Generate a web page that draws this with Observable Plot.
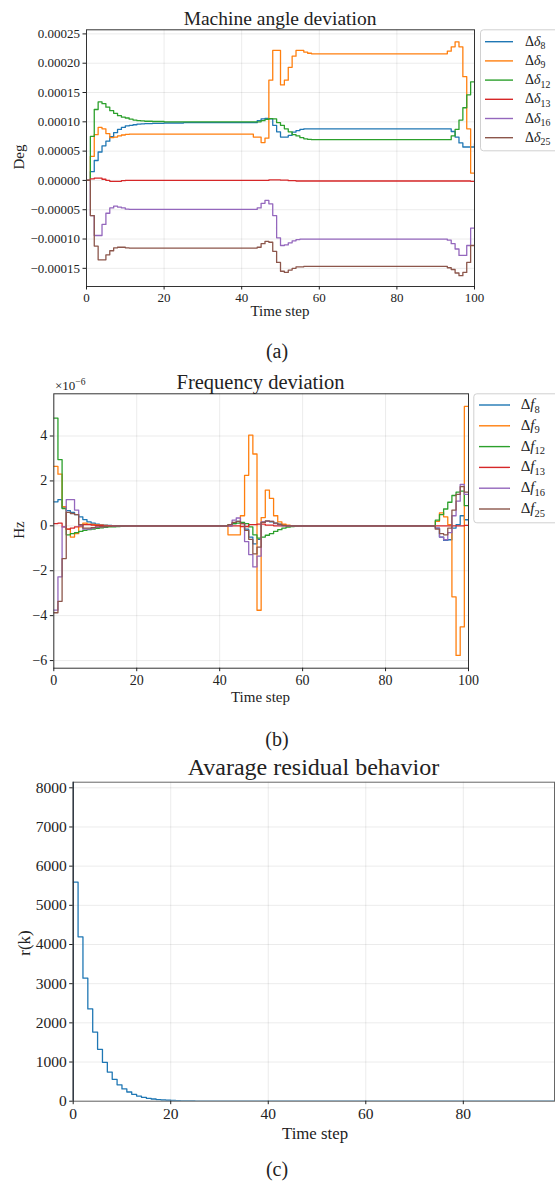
<!DOCTYPE html>
<html><head><meta charset="utf-8">
<script src="https://cdn.jsdelivr.net/npm/d3@7"></script>
<script src="https://cdn.jsdelivr.net/npm/@observablehq/plot@0.6"></script>
<style>
body{margin:0;width:555px;height:1192px;overflow:hidden;background:#fff;font-family:"Liberation Serif",serif;color:#222;}
#root{position:relative;width:555px;height:1192px;}
.pl{position:absolute;left:0;}
#overlay{position:absolute;left:0;top:0;pointer-events:none;}
</style></head><body><div id="root"></div>
<script>
// ---------- tick labels ----------
const stepTicks = [0, 20, 40, 60, 80, 100];
const resStepTicks = [0, 20, 40, 60, 80];
const angleTicks = [-0.00015, -0.0001, -0.00005, 0, 0.00005, 0.0001, 0.00015, 0.0002, 0.00025];
const freqTicks = [-6, -4, -2, 0, 2, 4];
const resTicks = [0, 1000, 2000, 3000, 4000, 5000, 6000, 7000, 8000];

// ---------- series ----------
const seriesIds = ["8", "9", "12", "13", "16", "25"];
const seriesColors = ["#1f77b4", "#ff7f0e", "#2ca02c", "#d62728", "#9467bd", "#8c564b"];

// Machine angle deviation, [time step, value in 1e-5 deg] at each step change
const angle8 = [[0,0],[1,1.5],[2,3.4],[3,4.85],[4,5.9],[5,6.7],[6,7.45],[7,8.15],[8,8.7],[9,9.05],[10,9.3],[11,9.4],[12,9.5],[13,9.6],[14,9.65],[15,9.7],[17,9.75],[20,9.8],[25,9.85],[44,10.2],[45,10.5],[46,10.6],[47,10.5],[48,9.4],[49,8.3],[50,7.4],[52,7.7],[53,8.25],[54,8.5],[55,8.7],[56,8.8],[94,8.35],[95,7.4],[96,6.4],[97,5.7],[100,6.25]];
const angle9 = [[0,0],[1,4.1],[2,7.8],[3,9.05],[4,8.8],[5,8.0],[6,7.3],[7,7.4],[8,7.6],[9,7.75],[10,7.85],[11,7.9],[43,7.4],[45,6.45],[46,7.2],[47,17.1],[48,22.2],[50,16.3],[51,17.1],[52,19.3],[53,21.2],[54,22.2],[56,21.9],[57,21.7],[58,21.6],[93,22.05],[94,22.8],[95,23.65],[96,22.8],[97,17.7],[98,8.8],[99,1.25],[100,1.25]];
const angle12 = [[0,0],[1,7.5],[2,12.1],[3,13.4],[4,13.1],[5,12.5],[6,11.9],[7,11.45],[8,11.05],[9,10.8],[10,10.65],[11,10.45],[12,10.3],[13,10.2],[14,10.15],[15,10.1],[17,10.05],[20,10.0],[45,10.2],[46,10.4],[47,10.55],[48,10.5],[49,9.85],[50,9.4],[51,8.8],[52,8.3],[53,7.8],[54,7.6],[55,7.3],[56,7.1],[57,7.0],[58,6.95],[94,7.6],[95,8.7],[96,10.3],[97,12.4],[98,14.6],[99,16.8],[100,16.8]];
const angle13 = [[0,0],[1,0.25],[2,0.4],[4,0.2],[5,0],[6,-0.15],[9,-0.05],[10,0],[47,0.1],[50,0.05],[52,-0.05],[54,-0.1],[99,-0.15],[100,-0.15]];
const angle16 = [[0,0],[1,-6.0],[2,-9.4],[4,-7.5],[5,-5.6],[6,-4.7],[7,-4.4],[8,-4.55],[9,-4.7],[10,-4.9],[11,-4.95],[44,-4.7],[45,-3.9],[46,-3.4],[47,-4.0],[48,-6.0],[49,-9.8],[50,-11.1],[51,-11.0],[52,-10.65],[53,-10.3],[54,-10.1],[55,-10.0],[93,-10.2],[94,-10.8],[95,-11.7],[96,-12.8],[98,-11.1],[99,-8.15],[100,-8.15]];
const angle25 = [[0,0],[1,-6.0],[2,-11.2],[3,-13.55],[5,-12.7],[6,-12.0],[7,-11.5],[8,-11.4],[10,-11.5],[11,-11.55],[44,-11.4],[45,-10.8],[46,-10.4],[47,-10.55],[48,-12.1],[49,-14.0],[50,-15.5],[51,-15.7],[52,-15.3],[53,-15.0],[54,-14.75],[56,-14.65],[93,-14.9],[94,-15.2],[95,-15.8],[96,-16.25],[97,-15.7],[98,-14.0],[99,-11.1],[100,-11.1]];

// Frequency deviation, [time step, value in 1e-6 Hz] at each step change
const freq8 = [[0,1.07],[1,1.17],[2,0.8],[3,0.68],[4,0.6],[5,0.5],[6,0.4],[7,0.28],[8,0.18],[9,0.12],[10,0.07],[11,0.04],[12,0.03],[13,0.02],[14,0.01],[15,0],[43,0.1],[44,0.2],[45,0.12],[46,-0.15],[47,-0.5],[48,-0.8],[49,-0.6],[50,0.15],[51,0.2],[52,0.18],[53,0.12],[54,0.07],[55,0.03],[56,0],[92,-0.1],[93,-0.5],[94,-0.65],[95,-0.62],[96,-0.1],[97,0.05],[98,0.45],[99,0.27],[100,0.27]];
const freq9 = [[0,2.65],[1,2.3],[2,0.85],[3,-0.15],[4,-0.5],[5,-0.35],[6,-0.05],[7,0.12],[8,0.08],[9,0.06],[10,0.04],[11,0.03],[12,0.02],[13,0.01],[14,0],[42,-0.4],[45,0.45],[46,2.25],[47,4.04],[48,3.2],[49,-3.76],[50,0.37],[51,1.59],[52,1.22],[53,0.45],[54,0.18],[55,0.07],[56,0.03],[57,0],[92,0.2],[93,0.58],[94,0.4],[95,0.05],[96,-3.16],[97,-5.77],[98,-4.5],[99,5.32],[100,5.32]];
const freq12 = [[0,4.8],[1,2.95],[2,0.77],[3,-0.4],[4,-0.35],[5,-0.3],[6,-0.25],[7,-0.2],[8,-0.17],[9,-0.14],[10,-0.11],[11,-0.09],[12,-0.07],[13,-0.05],[14,-0.04],[15,-0.03],[16,-0.02],[17,-0.01],[18,0],[42,0.05],[43,0.1],[44,0.12],[45,0.15],[46,0.1],[47,-0.05],[48,-0.4],[49,-0.55],[50,-0.5],[51,-0.42],[52,-0.35],[53,-0.25],[54,-0.17],[55,-0.1],[56,-0.06],[57,-0.03],[58,-0.01],[59,0],[92,0.25],[93,0.5],[94,0.75],[95,1.05],[96,1.35],[97,1.5],[98,1.55],[99,0.9],[100,0.9]];
const freq13 = [[0,0.1],[1,0.12],[2,-0.05],[3,-0.15],[4,-0.1],[5,-0.05],[6,0],[7,0.05],[9,0.03],[10,0.02],[12,0],[45,-0.03],[47,0.05],[49,0.08],[51,0.03],[53,0],[99,0.02],[100,0.02]];
const freq16 = [[0,-3.75],[1,-2.27],[2,-0.05],[3,1.17],[5,0.7],[6,0],[7,-0.15],[9,-0.1],[10,-0.07],[11,-0.05],[12,-0.03],[13,-0.02],[14,-0.01],[15,0],[43,0.25],[44,0.35],[45,0.1],[46,-0.7],[47,-1.28],[48,-1.83],[49,-1.35],[50,0.18],[51,0.2],[53,0.1],[54,0.04],[55,0],[92,-0.1],[93,-0.5],[94,-0.62],[95,-0.3],[96,0.45],[97,1.1],[98,1.84],[99,1.4],[100,1.4]];
const freq25 = [[0,-3.87],[1,-3.36],[2,-1.46],[3,0.6],[4,0.55],[5,0.5],[6,0.05],[7,-0.1],[9,-0.08],[10,-0.05],[11,-0.04],[12,-0.03],[13,-0.02],[14,-0.01],[15,0],[42,0.05],[43,0.15],[44,0.2],[45,0.1],[46,-0.2],[47,-0.6],[48,-1.25],[49,-0.95],[50,0.15],[51,0.22],[52,0.2],[53,0.12],[54,0.06],[55,0.02],[56,0],[92,-0.15],[93,-0.35],[94,-0.4],[95,-0.1],[96,0.7],[97,1.4],[98,1.75],[99,1.5],[100,1.5]];

// Average residual r(k), [time step, value] at each step change
const residual = [[0,5590],[1,4195],[2,3140],[3,2355],[4,1765],[5,1325],[6,993],[7,744],[8,558],[9,418],[10,313],[11,235],[12,176],[13,132],[14,99],[15,74],[16,56],[17,42],[18,31],[19,24],[20,18],[21,13],[22,10],[23,7.5],[24,5.6],[25,4.2],[26,3.2],[27,2.4],[28,1.8],[29,1.3],[30,1.0],[32,0.6],[35,0.3],[40,0.1],[99,0.05]];

// ---------- tables ----------
function table(list, mult) {
  const out = [];
  list.forEach((arr, i) => arr.forEach(([k, v]) => out.push({k, v: v * mult, s: seriesIds[i]})));
  return out;
}
const angleData = table([angle8, angle9, angle12, angle13, angle16, angle25], 1e-5);
const freqData = table([freq8, freq9, freq12, freq13, freq16, freq25], 1);
const resData = residual.map(([k, v]) => ({k, v}));

const root = document.getElementById("root");
const FONT = "Liberation Serif";

function panel(o) {
  const chart = Plot.plot({
    width: o.width, height: o.height,
    marginLeft: o.ml, marginRight: o.mr, marginTop: o.mt, marginBottom: o.mb,
    style: {fontFamily: FONT, fontSize: o.fs + "px", color: "#222", background: "transparent", overflow: "visible"},
    x: {domain: o.xDomain, label: null},
    y: {domain: o.yDomain, label: null},
    color: {domain: seriesIds, range: seriesColors},
    marks: [
      Plot.gridX(o.xTicks, {stroke: "#000", strokeOpacity: 0.1, strokeWidth: 0.8}),
      Plot.gridY(o.yTicks, {stroke: "#000", strokeOpacity: 0.1, strokeWidth: 0.8}),
      Plot.line(o.data, {x: "k", y: "v", z: o.z, stroke: o.stroke, curve: "step-after", strokeWidth: 1.3, clip: true}),
      Plot.frame({stroke: o.frame || "#333", strokeWidth: 1}),
      ...(o.extra || []),
      Plot.axisX(o.xTicks, {tickSize: 3.5, tickPadding: 3, label: null, fontSize: o.fs}),
      Plot.axisY(o.yTicks, {tickSize: 3.5, tickPadding: 3, label: null, tickFormat: o.yFmt, fontSize: o.fs})
    ]
  });
  chart.classList.add("pl");
  chart.style.top = o.top + "px";
  root.appendChild(chart);
}

panel({data: angleData, z: "s", stroke: "s", top: 0, width: 480, height: 320, ml: 86, mr: 6, mt: 29.3, mb: 34,
  xDomain: [0, 100], yDomain: [-0.000181, 0.000257], xTicks: stepTicks, yTicks: angleTicks,
  yFmt: d3.format(".5f"), fs: 13});
panel({data: freqData, z: "s", stroke: "s", top: 360, width: 475, height: 340, ml: 53.3, mr: 7, mt: 33.3, mb: 32.3,
  xDomain: [0, 100], yDomain: [-6.34, 5.88], xTicks: stepTicks, yTicks: freqTicks,
  yFmt: d3.format("d"), fs: 14});
panel({data: resData, z: null, stroke: seriesColors[0], top: 760, width: 555, height: 380, ml: 72.7, mr: 1, mt: 21.7, mb: 39.3,
  xDomain: [0, 98.7], yDomain: [0, 8143], xTicks: resStepTicks, yTicks: resTicks,
  yFmt: d3.format("d"), fs: 15.5, frame: "#666",
  extra: [Plot.ruleX([0], {stroke: "#1c2633", strokeWidth: 1.2})]});

// ---------- text overlay: titles, labels, captions, legends ----------
const svg = d3.select(root).append("svg").attr("id", "overlay")
  .attr("width", 555).attr("height", 1192).style("font-family", FONT).style("fill", "#222");

function txt(x, y, s, size, rot) {
  const t = svg.append("text").attr("text-anchor", "middle").attr("font-size", size)
    .attr("transform", `translate(${x},${y})` + (rot ? " rotate(-90)" : ""));
  t.text(s);
  return t;
}
txt(280, 25, "Machine angle deviation", 19.5);
txt(280, 316, "Time step", 15);
txt(23.5, 157, "Deg", 15, true);
txt(277, 358, "(a)", 20);

txt(260.5, 389, "Frequency deviation", 20.5);
txt(260.5, 701.5, "Time step", 15);
txt(23.5, 530, "Hz", 15, true);
txt(277, 746, "(b)", 20);
const mult = svg.append("text").attr("x", 55).attr("y", 390).attr("font-size", 13);
mult.append("tspan").text("×10");
mult.append("tspan").attr("dy", -5).attr("font-size", 9.5).text("−6");

txt(313.4, 775, "Avarage residual behavior", 24);
txt(315, 1139, "Time step", 16.8);
txt(30, 943, "r(k)", 17, true);
txt(277, 1176, "(c)", 20);

function legend(x, y, w, h, y0, dy, sx0, sx1, tx, sym, size) {
  svg.append("rect").attr("x", x + 0.5).attr("y", y + 0.5).attr("width", w).attr("height", h)
    .attr("rx", 3).attr("fill", "#fff").attr("fill-opacity", 0.85).attr("stroke", "#d0d0d0");
  seriesIds.forEach((id, i) => {
    const cy = y0 + i * dy;
    svg.append("line").attr("x1", sx0).attr("x2", sx1).attr("y1", cy).attr("y2", cy)
      .attr("stroke", seriesColors[i]).attr("stroke-width", 1.4);
    const t = svg.append("text").attr("x", tx).attr("y", cy + 4).attr("font-size", size);
    t.append("tspan").text("Δ");
    t.append("tspan").attr("font-style", "italic").text(sym);
    t.append("tspan").attr("dy", 3.5).attr("font-size", size * 0.7).text(id);
  });
}
legend(480, 29.3, 90, 121, 41.7, 19.2, 485, 513, 525, "δ", 14);
legend(473.3, 393.3, 90, 129, 405, 20.8, 479, 510, 520.7, "f", 15);
</script></body></html>
